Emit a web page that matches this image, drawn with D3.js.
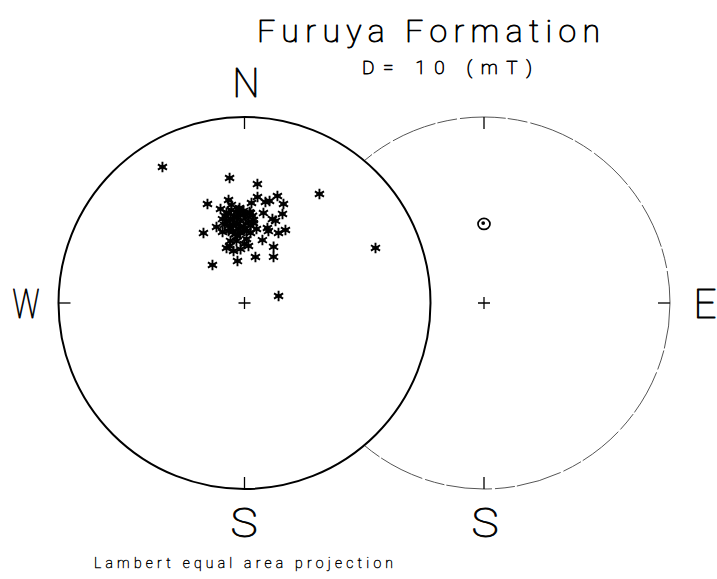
<!DOCTYPE html>
<html>
<head>
<meta charset="utf-8">
<script src="https://cdn.jsdelivr.net/npm/d3@7"></script>
<style>
  html, body { margin: 0; padding: 0; background: #fff; }
  svg { display: block; }
  text { font-family: "Roboto", "Inter", "DejaVu Sans", sans-serif; font-weight: 100; fill: #000; stroke: #000; stroke-linejoin: round; }
</style>
</head>
<body>
<svg id="chart" width="717" height="579"></svg>
<script>
// Site directions after AF demagnetization, lower hemisphere (positive inclination)
const lowerDec = [
  328.9, 353.2, 6.2, 34.5, 67.2, 78.4, 339.5, 345.7, 329.6, 319.9,
  350.5, 13.4, 32.2, 27.4, 29.3, 21.5, 17.1, 23.1, 7.0, 4.0,
  351.2, 13.8, 11.7, 339.8, 342.8, 341.9, 345.3, 355.8, 4.0, 15.9,
  17.0, 18.4, 25.9, 11.9, 3.8, 6.4, 0.0, 4.9, 354.0, 352.4,
  357.0, 349.9, 355.0, 0.0, 347.6, 351.8, 357.2, 2.8, 349.4, 355.4,
  353.4, 349.1, 359.3, 354.2, 350.4, 1.6, 5.3, 347.7, 348.1, 347.3,
  9.2, 348.7, 352.0, 356.3, 359.4, 3.1, 6.2, 4.5, 0.0, 356.7,
  352.6, 347.5, 345.6, 345.3, 355.3, 352.0, 0.7, 350.5, 357.4, 352.6,
  1.8, 20.7, 18.4
];
const lowerInc = [
  15.7, 32.8, 35.9, 29.6, 24.6, 74.8, 42.6, 46.7, 54.1, 68.2,
  71.4, 69.3, 66.1, 62.2, 52.9, 42.3, 39.6, 46.8, 42.1, 45.2,
  43.3, 42.9, 43.8, 54.1, 57.2, 64.6, 64.1, 66.3, 64.9, 61.2,
  55.3, 50.7, 55.6, 49.1, 49.9, 54.4, 64.1, 59.0, 60.3, 45.8,
  47.6, 49.4, 49.4, 50.5, 52.8, 52.8, 53.6, 54.1, 56.3, 57.2,
  51.1, 54.9, 56.0, 55.0, 58.2, 58.2, 51.1, 50.5, 66.7, 62.0,
  56.9, 49.1, 48.2, 48.5, 49.0, 49.5, 53.0, 55.8, 57.3, 59.1,
  59.3, 57.4, 54.3, 51.5, 51.7, 55.1, 52.3, 52.2, 50.9, 62.5,
  61.8, 51.0, 56.5
];

// Direction plotted on the upper-hemisphere net (negative inclination)
const upperDec = [0.0];
const upperInc = [-55.0];

// Compass labels for each net
const leftNetLabels = ["N", "W", "S"];
const rightNetLabels = ["E", "S"];

const titleText = "Furuya Formation";
const subtitleText = "D= 10 (mT)";
const footerText = "Lambert equal area projection";

const svg = d3.select("#chart");
const R = 186;
const leftC = [244.5, 303];
const rightC = [484, 303];

// Equal-area projection looking straight down the vertical axis;
// declination is measured clockwise from north (up).
function makeNet(center) {
  return d3.geoAzimuthalEqualArea()
    .rotate([0, -90])
    .scale(R / Math.SQRT2)
    .translate(center)
    .clipAngle(179.9);
}
const leftProj = makeNet(leftC);
const rightProj = makeNet(rightC);
const toLonLat = (dec, inc) => [180 - dec, Math.abs(inc)];

// Mask so the right net's primitive circle is hidden where it overlaps the left net
const defs = svg.append("defs");
const mask = defs.append("mask").attr("id", "outsideLeft");
mask.append("rect").attr("width", 717).attr("height", 579).attr("fill", "#fff");
mask.append("circle").attr("cx", leftC[0]).attr("cy", leftC[1]).attr("r", R + 1).attr("fill", "#000");

// Right (upper hemisphere) net: thin, broken primitive
const right = svg.append("g").attr("mask", "url(#outsideLeft)");
right.append("circle")
  .attr("cx", rightC[0]).attr("cy", rightC[1]).attr("r", R)
  .attr("fill", "none").attr("stroke", "#555").attr("stroke-width", 1)
  .attr("stroke-dasharray", "46 2 20 3");

// Tick marks at the cardinal points, drawn inward from the primitive
function tick(g, proj, dec, len) {
  const outer = proj(toLonLat(dec, 0));
  const inner = proj(toLonLat(dec, 90 - 2 * Math.asin((R - len) / R / Math.SQRT2) * 180 / Math.PI));
  g.append("line")
    .attr("x1", outer[0]).attr("y1", outer[1])
    .attr("x2", inner[0]).attr("y2", inner[1])
    .attr("stroke", "#000").attr("stroke-width", 1.3);
}
[0, 90, 180].forEach(d => tick(right, rightProj, d, 12));

// Left (lower hemisphere) net: heavy primitive
const left = svg.append("g");
left.append("circle")
  .attr("cx", leftC[0]).attr("cy", leftC[1]).attr("r", R)
  .attr("fill", "none").attr("stroke", "#000").attr("stroke-width", 2);
[0, 180, 270].forEach(d => tick(left, leftProj, d, 12));

// Centre crosses
function centreCross(c) {
  const s = 6;
  svg.append("path")
    .attr("d", `M${c[0] - s},${c[1]}H${c[0] + s}M${c[0]},${c[1] - s}V${c[1] + s}`)
    .attr("stroke", "#000").attr("stroke-width", 1.3).attr("fill", "none");
}
centreCross(leftC);
centreCross(rightC);

// Lower-hemisphere directions as asterisks
const star = d3.symbol().type(d3.symbolAsterisk).size(78);
const lowerData = lowerDec.map((d, i) => ({ dec: d, inc: lowerInc[i] }));
const pts = svg.append("g").selectAll("g")
  .data(lowerData)
  .join("g")
  .attr("transform", d => {
    const p = leftProj(toLonLat(d.dec, d.inc));
    return `translate(${p[0]},${p[1]})`;
  });
pts.append("path")
  .attr("d", star)
  .attr("fill", "none").attr("stroke", "#000").attr("stroke-width", 1.9);
pts.append("path")
  .attr("d", "M-3.5,0H3.5")
  .attr("stroke", "#000").attr("stroke-width", 1.3);
pts.append("circle").attr("r", 1.7).attr("fill", "#000");

// Upper-hemisphere direction as a ringed dot
const upperData = upperDec.map((d, i) => ({ dec: d, inc: upperInc[i] }));
const ug = svg.append("g").selectAll("g")
  .data(upperData)
  .join("g")
  .attr("transform", d => {
    const p = rightProj(toLonLat(d.dec, d.inc));
    return `translate(${p[0]},${p[1]})`;
  });
ug.append("ellipse").attr("rx", 6).attr("ry", 5.5)
  .attr("fill", "none").attr("stroke", "#000").attr("stroke-width", 1.7);
ug.append("circle").attr("cx", -0.8).attr("cy", -0.8).attr("r", 1.9).attr("fill", "#000");

// Compass letters, squeezed to the narrow plotter lettering
function label(txt, x, y, w) {
  svg.append("text").attr("x", x).attr("y", y)
    .attr("text-anchor", "middle")
    .attr("font-size", 40).attr("stroke-width", 0.9)
    .attr("textLength", w).attr("lengthAdjust", "spacingAndGlyphs")
    .text(txt);
}
label(leftNetLabels[0], 246, 97, 27);
label(leftNetLabels[1], 26, 318, 27);
label(leftNetLabels[2], 244, 537, 27);
label(rightNetLabels[0], 705, 318, 23);
label(rightNetLabels[1], 485, 537, 27);

// Titles
svg.append("text").attr("x", 257).attr("y", 42)
  .attr("font-size", 32).attr("stroke-width", 0.9)
  .attr("textLength", 343).attr("lengthAdjust", "spacing")
  .text(titleText);
svg.append("text").attr("x", 362).attr("y", 74)
  .attr("font-size", 19).attr("stroke-width", 0.8)
  .attr("textLength", 170).attr("lengthAdjust", "spacing")
  .text(subtitleText);
svg.append("text").attr("x", 94).attr("y", 568)
  .attr("font-size", 14).attr("stroke-width", 0.45)
  .attr("textLength", 299).attr("lengthAdjust", "spacing")
  .text(footerText);
</script>
</body>
</html>
